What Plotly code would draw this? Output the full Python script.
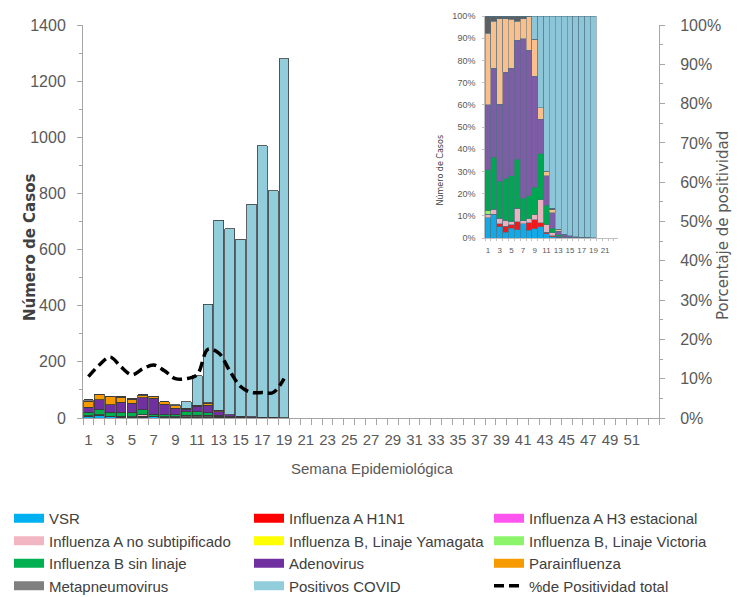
import plotly.graph_objects as go
import numpy as np

W, H = 744, 597

# ---------------- data ----------------
weeks = list(range(1, 20))
week_ticks = list(range(1, 52, 2))
inset_ticks = list(range(1, 22, 2))

series_names = [
    "VSR", "Influenza A H1N1", "Influenza A H3 estacional",
    "Influenza A no subtipificado", "Influenza B, Linaje Yamagata", "Influenza B, Linaje Victoria",
    "Influenza B sin linaje", "Adenovirus", "Parainfluenza",
    "Metapneumovirus", "Positivos COVID",
]

vsr = [6, 9, 4, 2, 3, 3, 5, 2, 2, 3, 3, 2, 2, 1, 1, 0, 0, 0, 0]
h1n1 = [0, 0, 1, 2, 1, 3, 0, 2, 2, 1, 1, 2, 1, 0, 0, 0, 0, 0, 0]
h3 = [0, 0, 0, 0, 0, 0, 0, 0, 0, 0, 0, 0, 0, 0, 0, 0, 0, 0, 0]
a_nosub = [1, 2, 2, 2, 1, 5, 1, 1, 1, 6, 5, 6, 3, 1, 0, 0, 0, 0, 0]
yamagata = [0, 0, 0, 0, 0, 0, 0, 0, 0, 0, 0, 0, 0, 0, 0, 0, 0, 0, 0]
victoria = [1, 0, 0, 0, 0, 0, 0, 0, 0, 0, 0, 0, 0, 0, 0, 0, 0, 0, 0]
b_sin = [12, 20, 13, 14, 14, 18, 8, 6, 6, 12, 13, 8, 4, 2, 1, 1, 0, 0, 0]
adeno = [19, 34, 27, 36, 33, 44, 56, 38, 24, 9, 20, 28, 12, 7, 4, 3, 3, 2, 1]
para = [21, 18, 30, 18, 15, 7, 7, 9, 8, 3, 3, 6, 6, 1, 1, 0, 0, 0, 0]
meta = [5, 2, 1, 1, 1, 2, 1, 0, 0, 0, 0, 2, 0, 0, 0, 0, 0, 0, 0]
covid = [0, 0, 0, 0, 0, 0, 0, 0, 5, 24, 105, 351, 677, 663, 630, 758, 967, 808, 1279]
positividad = [10.5, 13.5, 15.5, 13, 11, 12.5, 13.5, 12, 10, 10, 11, 17.5, 16.5, 12, 8, 6.5, 6.5, 6.5, 10]

series_values = [vsr, h1n1, h3, a_nosub, yamagata, victoria, b_sin, adeno, para, meta, covid]

# ---------------- styles ----------------
main_colors = ["#00B0F0", "#FF0000", "#FF55EE", "#F2B6C2", "#FFFF00", "#8CF46A",
               "#00B050", "#7030A0", "#F79A00", "#808080", "#92CDDC"]
inset_colors = ["#12A9E6", "#F01A1E", "#F55AF0", "#E8B3BE", "#FFFF33", "#9BF06A",
                "#00A651", "#7E5CA6", "#F9BF8C", "#5F5F5F", "#8CC6D8"]

FONT = "Liberation Sans Narrow, Liberation Sans, Arial, sans-serif"
DV = "DejaVu Sans, Verdana, sans-serif"
GRAY_TXT = "#595959"
AXIS_GRAY = "#A6A6A6"


def px_x(p):
    return p / W


def px_y(p):
    return 1 - p / H


fig = go.Figure()

# main stacked bars
for name, vals, col in zip(series_names, series_values, main_colors):
    fig.add_trace(go.Bar(
        x=weeks, y=vals, name=name, width=0.9,
        marker=dict(color=col, line=dict(color="#3A3A3A", width=0.8)),
        xaxis="x", yaxis="y", showlegend=False,
    ))

# legend proxies (wide swatches)
for name, col in zip(series_names, main_colors):
    fig.add_trace(go.Scatter(
        x=[None], y=[None], mode="lines", name=name,
        line=dict(color=col, width=9), xaxis="x", yaxis="y",
    ))

# positivity line
fig.add_trace(go.Scatter(
    x=weeks, y=positividad, name="%de Positividad total", mode="lines",
    line=dict(color="black", width=3.5, dash="10px,5px", shape="spline", smoothing=1.0),
    xaxis="x", yaxis="y2",
))

# inset: percentage stacked
totals = np.sum(np.array(series_values, dtype=float), axis=0)
for name, vals, col in zip(series_names, series_values, inset_colors):
    pct = 100.0 * np.array(vals, dtype=float) / totals
    fig.add_trace(go.Bar(
        x=weeks, y=pct, name=name, width=1.0,
        marker=dict(color=col, line=dict(color="#4F6F80", width=0.5)),
        xaxis="x3", yaxis="y3", showlegend=False, hoverinfo="skip",
    ))

main_dom_x = [px_x(83), px_x(659)]
main_dom_y = [px_y(418), px_y(25)]

fig.update_layout(
    width=W, height=H,
    margin=dict(l=0, r=0, t=0, b=0, autoexpand=False),
    paper_bgcolor="white", plot_bgcolor="white",
    barmode="stack",
    font=dict(family=FONT, color=GRAY_TXT, size=14),
    xaxis=dict(
        domain=main_dom_x, range=[0.5, 53.5], anchor="y", automargin=False,
        tickmode="array", tickvals=week_ticks, ticktext=[str(v) for v in week_ticks],
        ticks="", showgrid=False, zeroline=False,
        showline=True, linecolor=AXIS_GRAY, linewidth=1,
        tickfont=dict(family=FONT, size=15, color=GRAY_TXT),
        ticklabelstandoff=8,
        minor=dict(ticks="outside", ticklen=6, tick0=0.5, dtick=1, tickcolor=AXIS_GRAY, showgrid=False),
    ),
    yaxis=dict(
        domain=main_dom_y, range=[0, 1400], anchor="x", automargin=False,
        dtick=200, ticks="outside", ticklen=5, tickcolor=AXIS_GRAY,
        showgrid=False, zeroline=False,
        showline=True, linecolor=AXIS_GRAY, linewidth=1,
        tickfont=dict(family=FONT, size=16, color=GRAY_TXT),
        ticklabelstandoff=8,
        minor=dict(ticks="outside", ticklen=3, dtick=100, tickcolor=AXIS_GRAY, showgrid=False),
    ),
    yaxis2=dict(
        overlaying="y", side="right", anchor="x", range=[0, 100], automargin=False,
        dtick=10, ticksuffix="%", ticks="outside", ticklen=5, tickcolor=AXIS_GRAY,
        showgrid=False, zeroline=False,
        showline=True, linecolor=AXIS_GRAY, linewidth=1,
        tickfont=dict(family=FONT, size=16, color=GRAY_TXT),
        ticklabelstandoff=12,
        minor=dict(ticks="outside", ticklen=3, dtick=5, tickcolor=AXIS_GRAY, showgrid=False),
    ),
    xaxis3=dict(
        domain=[px_x(485), px_x(618)], range=[0.5, 23.2], anchor="y3", automargin=False,
        tickmode="array", tickvals=inset_ticks, ticktext=[str(v) for v in inset_ticks],
        ticks="", showgrid=False, zeroline=False,
        showline=True, linecolor="#BFBFBF", linewidth=0.6,
        tickfont=dict(family=FONT, size=8, color=GRAY_TXT),
        ticklabelstandoff=5,
        minor=dict(ticks="outside", ticklen=2, tick0=0.5, dtick=1, tickcolor="#BFBFBF", showgrid=False),
    ),
    yaxis3=dict(
        domain=[px_y(238), px_y(16)], range=[0, 100], anchor="x3", automargin=False,
        dtick=10, ticksuffix="%", ticks="outside", ticklen=2, tickcolor="#BFBFBF",
        showgrid=False, zeroline=False,
        showline=True, linecolor="#BFBFBF", linewidth=0.6,
        tickfont=dict(family=FONT, size=9, color=GRAY_TXT),
        ticklabelstandoff=5,
    ),
    legend=dict(
        orientation="h", x=px_x(9), y=px_y(502), xanchor="left", yanchor="top",
        entrywidth=195, entrywidthmode="pixels", traceorder="normal",
        font=dict(family=FONT, size=15, color="#404040"),
        bgcolor="rgba(0,0,0,0)",
    ),
    annotations=[
        dict(text="<b>Número de Casos</b>", x=px_x(19), y=px_y(248), xref="paper", yref="paper",
             textangle=-90, showarrow=False, font=dict(family=DV, size=15, color="#404040")),
        dict(text="Porcentaje de positividad", x=px_x(734), y=px_y(226), xref="paper", yref="paper",
             textangle=-90, showarrow=False, font=dict(family=DV, size=15, color=GRAY_TXT)),
        dict(text="Semana Epidemiológica", x=px_x(372), y=px_y(479), xref="paper", yref="paper",
             showarrow=False, font=dict(family=FONT, size=15, color=GRAY_TXT)),
        dict(text="Número de Casos", x=px_x(440), y=px_y(133), xref="paper", yref="paper",
             textangle=-90, showarrow=False, font=dict(family=DV, size=8, color="#404040")),
    ],
)

fig.write_html(
    "out.html",
    config={"displayModeBar": False},
    post_script="document.body.style.margin='0';document.body.style.overflow='hidden';",
)
